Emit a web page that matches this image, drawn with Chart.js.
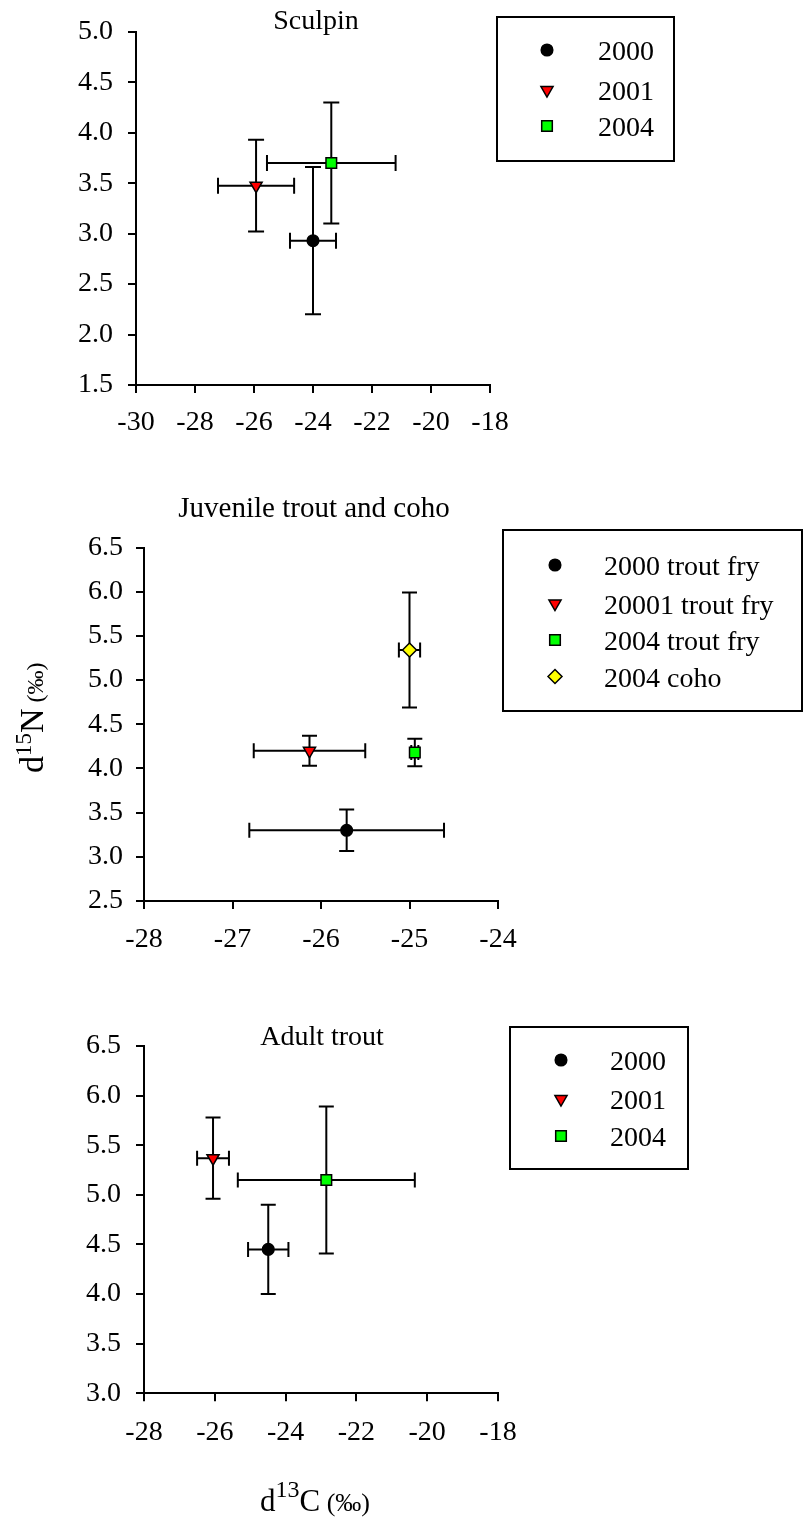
<!DOCTYPE html>
<html>
<head>
<meta charset="utf-8">
<title>Stable isotopes - sculpin and trout</title>
<script src="https://cdn.jsdelivr.net/npm/chart.js@4.4.1/dist/chart.umd.min.js"></script>
<style>
  html, body { margin: 0; padding: 0; background: #fff; }
  #page { position: relative; width: 807px; height: 1523px; overflow: hidden; }
  .panel { position: absolute; left: 0; width: 807px; }
  canvas { display: block; }
</style>
</head>
<body>
<div id="page">
  <div class="panel" style="top:0px;height:480px"><canvas id="sculpin" width="807" height="480"></canvas></div>
  <div class="panel" style="top:480px;height:510px"><canvas id="juvenile" width="807" height="510"></canvas></div>
  <div class="panel" style="top:990px;height:533px"><canvas id="adult" width="807" height="533"></canvas></div>
</div>
<script>
// ===========================
// DATA (d13C = x, d15N = y, with +/- errors)
// ===========================

// Sculpin
const sculpinLabels = ['2000', '2001', '2004'];
const sculpinC = [-24.0, -25.93, -23.38];
const sculpinN = [2.93, 3.475, 3.70];
const sculpinCErr = [0.78, 1.29, 2.18];
const sculpinNErr = [0.73, 0.455, 0.60];
const sculpinXTicks = [-30, -28, -26, -24, -22, -20, -18];
const sculpinYTicks = [1.5, 2.0, 2.5, 3.0, 3.5, 4.0, 4.5, 5.0];

// Juvenile trout and coho
const juvenileLabels = ['2000 trout fry', '20001 trout fry', '2004 trout fry', '2004 coho'];
const juvenileC = [-25.71, -26.13, -24.94, -25.0];
const juvenileN = [3.30, 4.20, 4.18, 5.34];
const juvenileCErr = [1.10, 0.63, 0.04, 0.12];
const juvenileNErr = [0.235, 0.17, 0.155, 0.65];
const juvenileXTicks = [-28, -27, -26, -25, -24];
const juvenileYTicks = [2.5, 3.0, 3.5, 4.0, 4.5, 5.0, 5.5, 6.0, 6.5];

// Adult trout
const adultLabels = ['2000', '2001', '2004'];
const adultC = [-24.49, -26.05, -22.85];
const adultN = [4.45, 5.37, 5.15];
const adultCErr = [0.57, 0.45, 2.5];
const adultNErr = [0.45, 0.41, 0.74];
const adultXTicks = [-28, -26, -24, -22, -20, -18];
const adultYTicks = [3.0, 3.5, 4.0, 4.5, 5.0, 5.5, 6.0, 6.5];

// ===========================
// STYLES
// ===========================
const FONT = "'Liberation Serif', 'Times New Roman', serif";
const markerStyles = [
  { pointStyle: 'circle', radius: 5.8, rotation: 0, bg: '#000000' },
  { pointStyle: 'triangle', radius: 7, rotation: 180, bg: '#ff0000' },
  { pointStyle: 'rect', radius: 7.5, rotation: 0, bg: '#00ff00' },
  { pointStyle: 'rectRot', radius: 7, rotation: 0, bg: '#ffff00' }
];

// ===========================
// PLUGINS
// ===========================

// error bars, drawn under the markers
const errorBars = {
  id: 'errorBars',
  beforeDatasetsDraw(chart, args, opts) {
    const ctx = chart.ctx;
    const xs = chart.scales.x, ys = chart.scales.y;
    const cap = opts.cap || 8;
    ctx.save();
    ctx.strokeStyle = '#000';
    ctx.lineWidth = 2;
    opts.xVals.forEach((xv, i) => {
      const yv = opts.yVals[i];
      const px = xs.getPixelForValue(xv);
      const py = ys.getPixelForValue(yv);
      const x0 = xs.getPixelForValue(xv - opts.xErr[i]);
      const x1 = xs.getPixelForValue(xv + opts.xErr[i]);
      const y0 = ys.getPixelForValue(yv - opts.yErr[i]);
      const y1 = ys.getPixelForValue(yv + opts.yErr[i]);
      ctx.beginPath();
      ctx.moveTo(x0, py); ctx.lineTo(x1, py);
      ctx.moveTo(x0, py - cap); ctx.lineTo(x0, py + cap);
      ctx.moveTo(x1, py - cap); ctx.lineTo(x1, py + cap);
      ctx.moveTo(px, y0); ctx.lineTo(px, y1);
      ctx.moveTo(px - cap, y0); ctx.lineTo(px + cap, y0);
      ctx.moveTo(px - cap, y1); ctx.lineTo(px + cap, y1);
      ctx.stroke();
    });
    ctx.restore();
  }
};

function drawMarker(ctx, st, x, y) {
  ctx.fillStyle = st.bg;
  ctx.strokeStyle = '#000';
  ctx.lineWidth = 1.5;
  Chart.helpers.drawPoint(ctx, { pointStyle: st.pointStyle, radius: st.radius, rotation: st.rotation, borderWidth: 1.5 }, x, y);
}

// title, boxed legend and axis titles
const panelDecor = {
  id: 'panelDecor',
  afterDraw(chart, args, opts) {
    const ctx = chart.ctx;
    ctx.save();
    ctx.fillStyle = '#000';
    // title
    ctx.font = opts.titleSize + 'px ' + FONT;
    ctx.textAlign = 'center';
    ctx.textBaseline = 'alphabetic';
    ctx.fillText(opts.title, opts.titleX, opts.titleY);

    // legend
    const lg = opts.legend;
    ctx.strokeStyle = '#000';
    ctx.lineWidth = 2;
    ctx.strokeRect(lg.x0, lg.y0, lg.x1 - lg.x0, lg.y1 - lg.y0);
    chart.data.datasets.forEach((ds, i) => {
      const ry = lg.rows[i];
      drawMarker(ctx, markerStyles[i], lg.mx, ry);
      ctx.fillStyle = '#000';
      ctx.font = '28px ' + FONT;
      ctx.textAlign = 'left';
      ctx.textBaseline = 'alphabetic';
      ctx.fillText(ds.label, lg.tx, ry + 10);
    });

    // axis titles with superscripts
    if (opts.yTitle) drawRich(ctx, opts.yTitle, true);
    if (opts.xTitle) drawRich(ctx, opts.xTitle, false);
    ctx.restore();
  }
};

function drawRich(ctx, t, rotated) {
  ctx.save();
  ctx.translate(t.x, t.y);
  if (rotated) ctx.rotate(-Math.PI / 2);
  ctx.textAlign = 'left';
  ctx.textBaseline = 'alphabetic';
  ctx.fillStyle = '#000';
  let pos = 0;
  t.parts.forEach(p => {
    ctx.font = p.size + 'px ' + FONT;
    ctx.fillText(p.text, pos, -(p.raise || 0));
    pos += ctx.measureText(p.text).width;
  });
  ctx.restore();
}

// ===========================
// CHART BUILDER
// ===========================
function makePanel(id, L, labels, xVals, yVals, xErr, yErr, xTicks, yTicks, decor) {
  const datasets = labels.map((lab, i) => ({
    label: lab,
    data: [{ x: xVals[i], y: yVals[i] }],
    pointStyle: markerStyles[i].pointStyle,
    pointRadius: markerStyles[i].radius,
    pointRotation: markerStyles[i].rotation,
    pointBackgroundColor: markerStyles[i].bg,
    pointBorderColor: '#000',
    pointBorderWidth: 1.5,
    showLine: false
  }));

  const axisCommon = {
    type: 'linear',
    grid: { drawOnChartArea: false, drawTicks: true, tickLength: 8, color: '#000', lineWidth: 2 },
    border: { display: true, color: '#000', width: 2 }
  };

  return new Chart(document.getElementById(id), {
    type: 'scatter',
    data: { datasets },
    options: {
      responsive: false,
      animation: false,
      events: [],
      devicePixelRatio: 1,
      layout: { padding: { left: 0, top: L.top, right: 807 - L.right, bottom: 0 } },
      scales: {
        x: Object.assign({}, axisCommon, {
          position: 'bottom',
          min: xTicks[0],
          max: xTicks[xTicks.length - 1],
          afterBuildTicks: s => { s.ticks = xTicks.map(v => ({ value: v })); },
          afterFit: s => { s.height = L.height - L.bottom; },
          ticks: { font: { family: FONT, size: 28 }, color: '#000', padding: L.xPad, maxRotation: 0, autoSkip: false, callback: v => String(v) }
        }),
        y: Object.assign({}, axisCommon, {
          position: 'left',
          min: yTicks[0],
          max: yTicks[yTicks.length - 1],
          afterBuildTicks: s => { s.ticks = yTicks.map(v => ({ value: v })); },
          afterFit: s => { s.width = L.left; },
          ticks: { font: { family: FONT, size: 28 }, color: '#000', padding: L.yPad, autoSkip: false, callback: v => v.toFixed(1) }
        })
      },
      plugins: {
        legend: { display: false },
        tooltip: { enabled: false },
        errorBars: { xVals, yVals, xErr, yErr, cap: L.cap },
        panelDecor: decor
      }
    },
    plugins: [errorBars, panelDecor]
  });
}

// ===========================
// PANELS
// ===========================
makePanel('sculpin',
  { height: 480, left: 136, right: 490, top: 31, bottom: 385, xPad: 13, yPad: 15, cap: 8 },
  sculpinLabels, sculpinC, sculpinN, sculpinCErr, sculpinNErr, sculpinXTicks, sculpinYTicks,
  {
    title: 'Sculpin', titleSize: 28, titleX: 316, titleY: 29,
    legend: { x0: 497, y0: 17, x1: 674, y1: 161, rows: [50, 90, 126], mx: 547, tx: 598 }
  });

makePanel('juvenile',
  { height: 510, left: 144, right: 498, top: 67.5, bottom: 421, xPad: 14, yPad: 13, cap: 7.5 },
  juvenileLabels, juvenileC, juvenileN, juvenileCErr, juvenileNErr, juvenileXTicks, juvenileYTicks,
  {
    title: 'Juvenile trout and coho', titleSize: 29, titleX: 314, titleY: 37,
    legend: { x0: 503, y0: 50, x1: 802, y1: 231, rows: [85, 123.5, 160, 196.5], mx: 555, tx: 604 },
    yTitle: { x: 43, y: 293, parts: [
      { text: 'd', size: 34 }, { text: '15', size: 23, raise: 12 }, { text: 'N', size: 34 }, { text: ' (\u2030)', size: 24 }
    ] }
  });

makePanel('adult',
  { height: 533, left: 144, right: 498, top: 56, bottom: 403.3, xPad: 15, yPad: 15, cap: 7.5 },
  adultLabels, adultC, adultN, adultCErr, adultNErr, adultXTicks, adultYTicks,
  {
    title: 'Adult trout', titleSize: 28, titleX: 322, titleY: 55,
    legend: { x0: 510, y0: 37, x1: 688, y1: 179, rows: [70, 109, 146], mx: 561, tx: 610 },
    xTitle: { x: 260, y: 521, parts: [
      { text: 'd', size: 31 }, { text: '13', size: 24, raise: 14 }, { text: 'C', size: 31 }, { text: ' (\u2030)', size: 26 }
    ] }
  });
</script>
</body>
</html>
